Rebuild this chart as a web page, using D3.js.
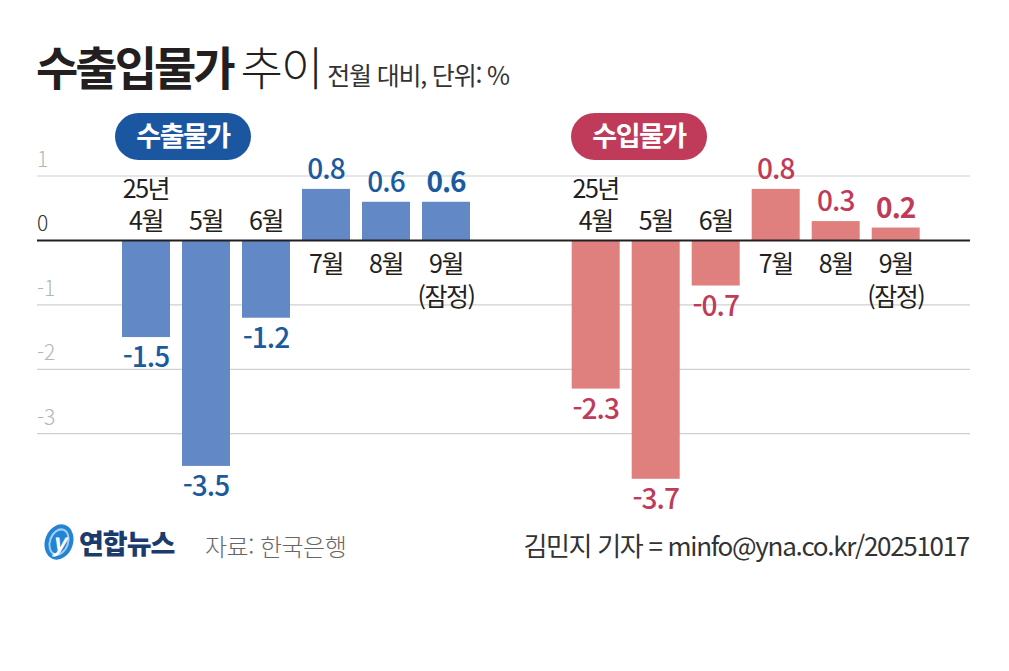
<!DOCTYPE html>
<html lang="ko">
<head>
<meta charset="utf-8">
<title>수출입물가 추이</title>
<script src="https://d3js.org/d3.v7.min.js"></script>
<style>
  body { margin: 0; background: #fff; }
  text { font-family: "Noto Sans CJK KR", "Noto Sans", sans-serif; }
</style>
</head>
<body>
<script>
const w = 1009;
const h = 671;

// data
const months = [["25년", "4월"], ["5월"], ["6월"], ["7월"], ["8월"], ["9월", "(잠정)"]];
const exportVals = [-1.5, -3.5, -1.2, 0.8, 0.6, 0.6];
const importVals = [-2.3, -3.7, -0.7, 0.8, 0.3, 0.2];
const yTicks = [1, 0, -1, -2, -3];

const svg = d3.select("body").append("svg")
  .attr("width", w)
  .attr("height", h);

svg.append("rect").attr("width", w).attr("height", h).attr("fill", "#fff");

// title
const title = svg.append("text").attr("x", 36).attr("y", 85).attr("fill", "#231f20");
title.append("tspan").attr("font-size", 46).attr("font-weight", 700)
  .attr("letter-spacing", -3).text("수출입물가");
title.append("tspan").attr("font-size", 46).attr("font-weight", 300)
  .attr("letter-spacing", -2).attr("dx", 8).text("추이");
title.append("tspan").attr("font-size", 25).attr("font-weight", 400)
  .attr("letter-spacing", -1.2).attr("dx", 6).attr("fill", "#333").text("전월 대비, 단위: %");

const y = d3.scaleLinear().domain([-3, 1]).range([433.7, 176]);

// gridlines
svg.append("g").selectAll("line")
  .data(yTicks.filter(d => d !== 0))
  .join("line")
  .attr("x1", 37).attr("x2", 970)
  .attr("y1", d => y(d)).attr("y2", d => y(d))
  .attr("stroke", "#d0d0d0").attr("stroke-width", 1.2);

svg.append("g").selectAll("text")
  .data(yTicks)
  .join("text")
  .attr("x", 37).attr("y", d => y(d) - 9)
  .attr("font-size", 21).attr("font-weight", 300)
  .attr("fill", d => d === 0 ? "#333" : "#b5b5b5")
  .text(d => d);

function panel(vals, x0, barColor, textColor, pillColor, pillText, pillX) {
  const x = d3.scaleBand().domain(d3.range(vals.length))
    .range([x0, x0 + 360]).paddingInner(0.2).paddingOuter(0.1);
  const g = svg.append("g");

  g.selectAll("rect.bar")
    .data(vals)
    .join("rect")
    .attr("class", "bar")
    .attr("x", (d, i) => x(i))
    .attr("width", x.bandwidth())
    .attr("y", d => y(Math.max(0, d)))
    .attr("height", d => Math.abs(y(d) - y(0)))
    .attr("fill", barColor);

  // value labels
  g.selectAll("text.val")
    .data(vals)
    .join("text")
    .attr("class", "val")
    .attr("x", (d, i) => x(i) + x.bandwidth() / 2)
    .attr("y", d => d < 0 ? y(d) + 30 : y(d) - 10)
    .attr("text-anchor", "middle")
    .attr("font-size", 28)
    .attr("font-weight", (d, i) => i === vals.length - 1 ? 700 : 500)
    .attr("letter-spacing", -1)
    .attr("fill", textColor)
    .text(d => d.toFixed(1));

  // month labels
  months.forEach((lines, i) => {
    const v = vals[i];
    const cx = x(i) + x.bandwidth() / 2;
    const t = g.append("text")
      .attr("text-anchor", "middle")
      .attr("font-size", 25)
      .attr("letter-spacing", -1.5)
      .attr("fill", "#231f20");
    lines.forEach((s, k) => {
      const yy = v < 0
        ? y(0) - 10 - (lines.length - 1 - k) * 32
        : y(0) + 33 + k * 33;
      t.append("tspan").attr("x", cx).attr("y", yy).text(s);
    });
  });

  // pill
  g.append("rect")
    .attr("x", pillX).attr("y", 113)
    .attr("width", 136).attr("height", 47)
    .attr("rx", 23.5)
    .attr("fill", pillColor);
  g.append("text")
    .attr("x", pillX + 68).attr("y", 146)
    .attr("text-anchor", "middle")
    .attr("font-size", 27).attr("font-weight", 700)
    .attr("letter-spacing", -1.5)
    .attr("fill", "#fff")
    .text(pillText);
}

panel(exportVals, 116, "#6289c6", "#1a5b9f", "#1b57a0", "수출물가", 115);
panel(importVals, 565.7, "#df807e", "#c03a59", "#c03a59", "수입물가", 571);

// zero line
svg.append("line")
  .attr("x1", 37).attr("x2", 970)
  .attr("y1", y(0)).attr("y2", y(0))
  .attr("stroke", "#231f20").attr("stroke-width", 2);

// footer: logo
const logo = svg.append("g").attr("transform", "translate(59,542) rotate(20)");
logo.append("ellipse").attr("rx", 14).attr("ry", 18).attr("fill", "#2384d4");
logo.append("ellipse").attr("rx", 9).attr("ry", 13).attr("fill", "none")
  .attr("stroke", "#9fd0f5").attr("stroke-width", 2);
svg.append("text").attr("x", 59).attr("y", 551)
  .attr("text-anchor", "middle").attr("font-size", 24).attr("font-style", "italic")
  .attr("font-weight", 700).attr("fill", "#fff").text("y");
svg.append("text").attr("x", 79).attr("y", 554)
  .attr("font-size", 27).attr("font-weight", 900).attr("letter-spacing", -1)
  .attr("fill", "#1c3b6d").text("연합뉴스");

svg.append("text").attr("x", 205).attr("y", 556)
  .attr("font-size", 24).attr("font-weight", 300).attr("letter-spacing", -0.5)
  .attr("fill", "#666").text("자료: 한국은행");

svg.append("text").attr("x", 969).attr("y", 556)
  .attr("text-anchor", "end")
  .attr("font-size", 26).attr("font-weight", 400).attr("letter-spacing", -1.3)
  .attr("fill", "#333").text("김민지 기자 = minfo@yna.co.kr/20251017");
</script>
</body>
</html>
